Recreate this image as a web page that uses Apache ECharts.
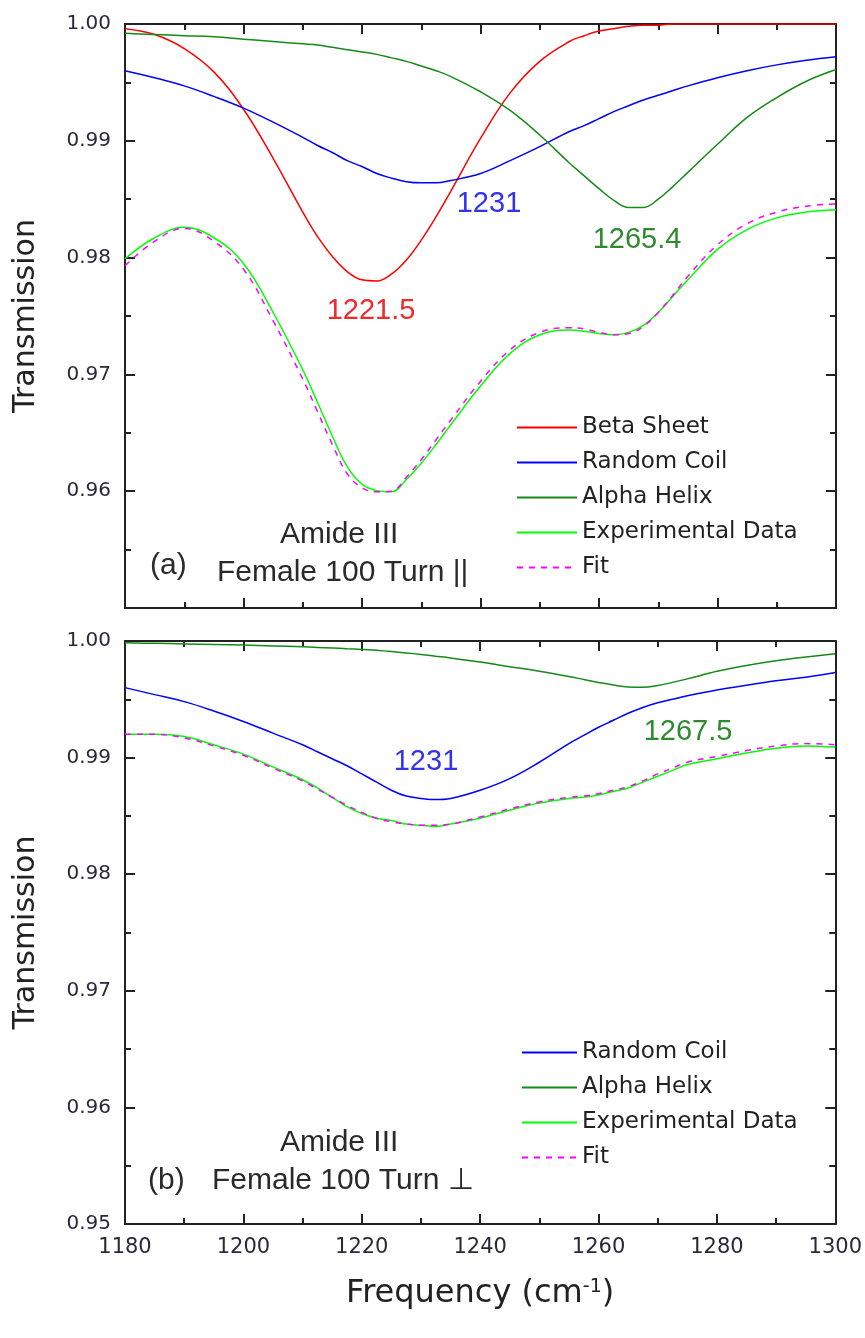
<!DOCTYPE html>
<html>
<head>
<meta charset="utf-8">
<title>Amide III</title>
<script src="https://cdn.jsdelivr.net/npm/echarts@6.0.0/dist/echarts.min.js"></script>
<style>
  html, body { margin: 0; padding: 0; background: #fff; }
  #main { width: 865px; height: 1338px; }
</style>
</head>
<body>
<div id="main"></div>
<script>
// wavenumbers (cm-1), denser around the dips
var freq = [1180, 1185, 1190, 1195, 1200, 1205, 1210,
            1212.5, 1215, 1217.5, 1220, 1222.5, 1225, 1227.5, 1230, 1232.5, 1235,
            1240, 1245, 1250, 1255,
            1257.5, 1260, 1262.5, 1265, 1267.5, 1270, 1272.5, 1275,
            1280, 1285, 1290, 1295, 1300];

// (a) parallel
var betaSheetA = [0.9996, 0.9991, 0.9979, 0.9959, 0.9927, 0.9885, 0.9839,
                  0.9818, 0.9801, 0.9788, 0.9781, 0.9780, 0.9786, 0.9798, 0.9815, 0.9835, 0.9857,
                  0.9902, 0.9941, 0.9968, 0.9985,
                  0.9990, 0.9994, 0.9996, 0.9998, 0.9999, 0.9999, 1.0000, 1.0000,
                  1.0000, 1.0000, 1.0000, 1.0000, 1.0000];
var randomCoilA = [0.9960, 0.9954, 0.9947, 0.9938, 0.9928, 0.9916, 0.9903,
                   0.9896, 0.9890, 0.9883, 0.9878, 0.9872, 0.9868, 0.9865, 0.9864, 0.9864, 0.9866,
                   0.9872, 0.9883, 0.9895, 0.9908,
                   0.9913, 0.9919, 0.9925, 0.9930, 0.9935, 0.9939, 0.9943, 0.9947,
                   0.9954, 0.9960, 0.9965, 0.9969, 0.9972];
var alphaHelixA = [0.9992, 0.9991, 0.9990, 0.9989, 0.9987, 0.9985, 0.9983,
                   0.9982, 0.9980, 0.9978, 0.9976, 0.9974, 0.9971, 0.9968, 0.9964, 0.9960, 0.9955,
                   0.9942, 0.9926, 0.9905, 0.9881,
                   0.9870, 0.9859, 0.9849, 0.9843, 0.9843, 0.9850, 0.9861, 0.9873,
                   0.9897, 0.9920, 0.9937, 0.9951, 0.9961];
var experimentalA = [0.9799, 0.9817, 0.9826, 0.9817, 0.9795, 0.9753, 0.9704,
                     0.9676, 0.9647, 0.9621, 0.9606, 0.96005, 0.95995, 0.9610, 0.9624, 0.9640, 0.9657,
                     0.9690, 0.9718, 0.9734, 0.9738,
                     0.9737, 0.9735, 0.9734, 0.9736, 0.9742, 0.9753, 0.9767, 0.9781,
                     0.9807, 0.9824, 0.9834, 0.9839, 0.9841];
var fitA = [0.9793, 0.9814, 0.9825, 0.9814, 0.9790, 0.9746, 0.9696,
            0.9668, 0.9640, 0.9615, 0.9603, 0.95995, 0.9600, 0.9612, 0.9627, 0.9644, 0.9661,
            0.9694, 0.9721, 0.9736, 0.9740,
            0.9739, 0.9736, 0.9734, 0.9735, 0.9741, 0.9753, 0.9768, 0.9784,
            0.9811, 0.9829, 0.9839, 0.9844, 0.9846];

// (b) perpendicular
var randomCoilB = [0.9960, 0.9954, 0.9948, 0.9940, 0.9931, 0.9921, 0.9911,
                   0.9905, 0.9899, 0.9893, 0.9886, 0.9879, 0.9872, 0.9867, 0.9865, 0.9864, 0.9865,
                   0.9872, 0.9882, 0.9896, 0.9912,
                   0.9919, 0.9926, 0.9932, 0.9938, 0.9943, 0.9947, 0.9950, 0.9953,
                   0.9958, 0.9962, 0.9966, 0.9969, 0.9973];
var alphaHelixB = [0.99985, 0.9998, 0.99975, 0.9997, 0.99965, 0.99958, 0.9995,
                   0.99945, 0.9994, 0.99934, 0.99928, 0.9992, 0.9991, 0.99898, 0.99885, 0.9987, 0.99855,
                   0.9982, 0.9978, 0.9974, 0.99695,
                   0.9967, 0.99645, 0.99622, 0.99605, 0.99603, 0.99618, 0.99645, 0.99675,
                   0.9974, 0.9979, 0.9983, 0.99862, 0.9989];
var experimentalB = [0.9920, 0.9920, 0.9918, 0.9911, 0.9903, 0.9892, 0.9881,
                     0.9874, 0.9866, 0.9858, 0.9852, 0.9848, 0.9846, 0.9843, 0.9842, 0.9841, 0.9843,
                     0.9848, 0.9855, 0.9861, 0.9865,
                     0.9866, 0.9868, 0.9871, 0.9874, 0.9879, 0.9884, 0.9889, 0.9894,
                     0.9899, 0.9904, 0.9908, 0.9910, 0.9909];
var fitB = [0.9920, 0.9920, 0.9917, 0.9910, 0.9902, 0.9891, 0.9880,
            0.9873, 0.9866, 0.9859, 0.9853, 0.9848, 0.9845, 0.9843, 0.9842, 0.9842, 0.9843,
            0.9849, 0.9856, 0.9862, 0.9866,
            0.9867, 0.9869, 0.9872, 0.9875, 0.9880, 0.9886, 0.9891, 0.9896,
            0.9901, 0.9906, 0.9910, 0.9912, 0.9911];

var xTicks = {min: 1180, max: 1300, interval: 20};
var yTicks = {min: 0.95, max: 1.00, interval: 0.01};

var colors = {
    beta: '#ff0000',
    coil: '#0000ff',
    helix: '#168a16',
    exp: '#00ff00',
    fit: '#ff00ff'
};

function pairs(ys) {
    return freq.map(function (f, i) { return [f, ys[i]]; });
}

var frame = '#222';
var labelColor = '#2d2838';

function xAxisOf(grid, pos, showLabel) {
    return {
        type: 'value', gridIndex: grid, position: pos,
        min: xTicks.min, max: xTicks.max, interval: xTicks.interval,
        axisLine: {onZero: false, lineStyle: {color: frame, width: 2}},
        axisTick: {inside: true, length: 10, lineStyle: {color: frame, width: 2}},
        minorTick: {show: true, splitNumber: 2, length: 6, lineStyle: {color: frame, width: 2}},
        splitLine: {show: false},
        axisLabel: {
            show: showLabel, margin: 13, color: labelColor,
            fontFamily: 'DejaVu Sans', fontSize: 21,
            formatter: function (v) { return String(v); }
        }
    };
}

function yAxisOf(grid, pos, showLabel, hideMin) {
    return {
        type: 'value', gridIndex: grid, position: pos,
        min: yTicks.min, max: yTicks.max, interval: yTicks.interval,
        axisLine: {onZero: false, lineStyle: {color: frame, width: 2}},
        axisTick: {inside: true, length: 10, lineStyle: {color: frame, width: 2}},
        minorTick: {show: true, splitNumber: 2, length: 6, lineStyle: {color: frame, width: 2}},
        splitLine: {show: false},
        name: showLabel ? 'Transmission' : '',
        nameLocation: 'middle',
        nameGap: 84,
        nameTextStyle: {fontFamily: 'DejaVu Sans', fontSize: 30, color: '#222'},
        axisLabel: {
            show: showLabel, margin: 14, color: labelColor,
            fontFamily: 'DejaVu Sans', fontSize: 20,
            formatter: function (v) {
                if (hideMin && Math.abs(v - yTicks.min) < 1e-6) return '';
                return v.toFixed(2);
            }
        }
    };
}

function line(name, ys, color, grid, dashed) {
    return {
        name: name, type: 'line',
        xAxisIndex: grid * 2, yAxisIndex: grid * 2,
        data: pairs(ys),
        smooth: 0.4,
        symbol: 'none',
        lineStyle: {color: color, width: 1.5, type: dashed ? [6, 6] : 'solid'},
        itemStyle: {color: color}
    };
}

var bottomX = xAxisOf(1, 'bottom', true);
bottomX.name = 'Frequency (cm{sup|-1})';
bottomX.nameLocation = 'middle';
bottomX.nameGap = 54;
bottomX.nameTextStyle = {
    fontFamily: 'DejaVu Sans', fontSize: 32, color: '#222',
    rich: {
        sup: {fontFamily: 'DejaVu Sans', fontSize: 19, color: '#222', verticalAlign: 'top', padding: [0, 0, 10, 0]}
    }
};

var legendText = {fontFamily: 'DejaVu Sans', fontSize: 23, color: '#222'};
var noteFont = 'Liberation Sans';

function note(text, x, y, color, size, align) {
    return {
        type: 'text', x: x, y: y, z: 100,
        style: {
            text: text, fill: color,
            font: size + 'px "' + noteFont + '"',
            textAlign: align || 'center', align: align || 'center',
            textVerticalAlign: 'middle', verticalAlign: 'middle'
        }
    };
}

var option = {
    animation: false,
    backgroundColor: '#fff',
    grid: [
        {left: 125, top: 24, width: 711, height: 584},
        {left: 125, top: 641, width: 711, height: 583}
    ],
    xAxis: [
        xAxisOf(0, 'bottom', false),
        xAxisOf(0, 'top', false),
        bottomX,
        xAxisOf(1, 'top', false)
    ],
    yAxis: [
        yAxisOf(0, 'left', true, true),
        yAxisOf(0, 'right', false, false),
        yAxisOf(1, 'left', true, false),
        yAxisOf(1, 'right', false, false)
    ],
    legend: [
        {
            orient: 'vertical', left: 516, top: 416, padding: 0,
            itemWidth: 60, itemHeight: 14, itemGap: 12,
            itemStyle: {opacity: 0},
            selectedMode: false, textStyle: legendText,
            data: ['Beta Sheet', 'Random Coil', 'Alpha Helix', 'Experimental Data', 'Fit']
        },
        {
            orient: 'vertical', left: 521, top: 1041, padding: 0,
            itemWidth: 55, itemHeight: 14, itemGap: 12,
            itemStyle: {opacity: 0},
            selectedMode: false, textStyle: legendText,
            data: ['Random Coil', 'Alpha Helix', 'Experimental Data', 'Fit']
        }
    ],
    series: [
        line('Beta Sheet', betaSheetA, colors.beta, 0),
        line('Random Coil', randomCoilA, colors.coil, 0),
        line('Alpha Helix', alphaHelixA, colors.helix, 0),
        line('Experimental Data', experimentalA, colors.exp, 0),
        line('Fit', fitA, colors.fit, 0, true),
        line('Random Coil', randomCoilB, colors.coil, 1),
        line('Alpha Helix', alphaHelixB, colors.helix, 1),
        line('Experimental Data', experimentalB, colors.exp, 1),
        line('Fit', fitB, colors.fit, 1, true)
    ],
    graphic: [
        note('1221.5', 371, 311, '#ee2a2a', 29),
        note('1231', 489, 204, '#3333ee', 29),
        note('1265.4', 637, 240, '#2e8a2e', 29),
        note('Amide III', 280, 535, '#2a2a2a', 30, 'left'),
        note('(a)', 150, 566, '#2a2a2a', 30, 'left'),
        note('Female 100 Turn ||', 217, 573, '#2a2a2a', 30, 'left'),
        note('1231', 426, 762, '#3333ee', 29),
        note('1267.5', 688, 732, '#2e8a2e', 29),
        note('Amide III', 280, 1143, '#2a2a2a', 30, 'left'),
        note('(b)', 148, 1181, '#2a2a2a', 30, 'left'),
        note('Female 100 Turn \u22A5', 212, 1181, '#2a2a2a', 30, 'left')
    ]
};

var myChart = echarts.init(document.getElementById('main'), null, {renderer: 'canvas'});
myChart.setOption(option);
</script>
</body>
</html>
